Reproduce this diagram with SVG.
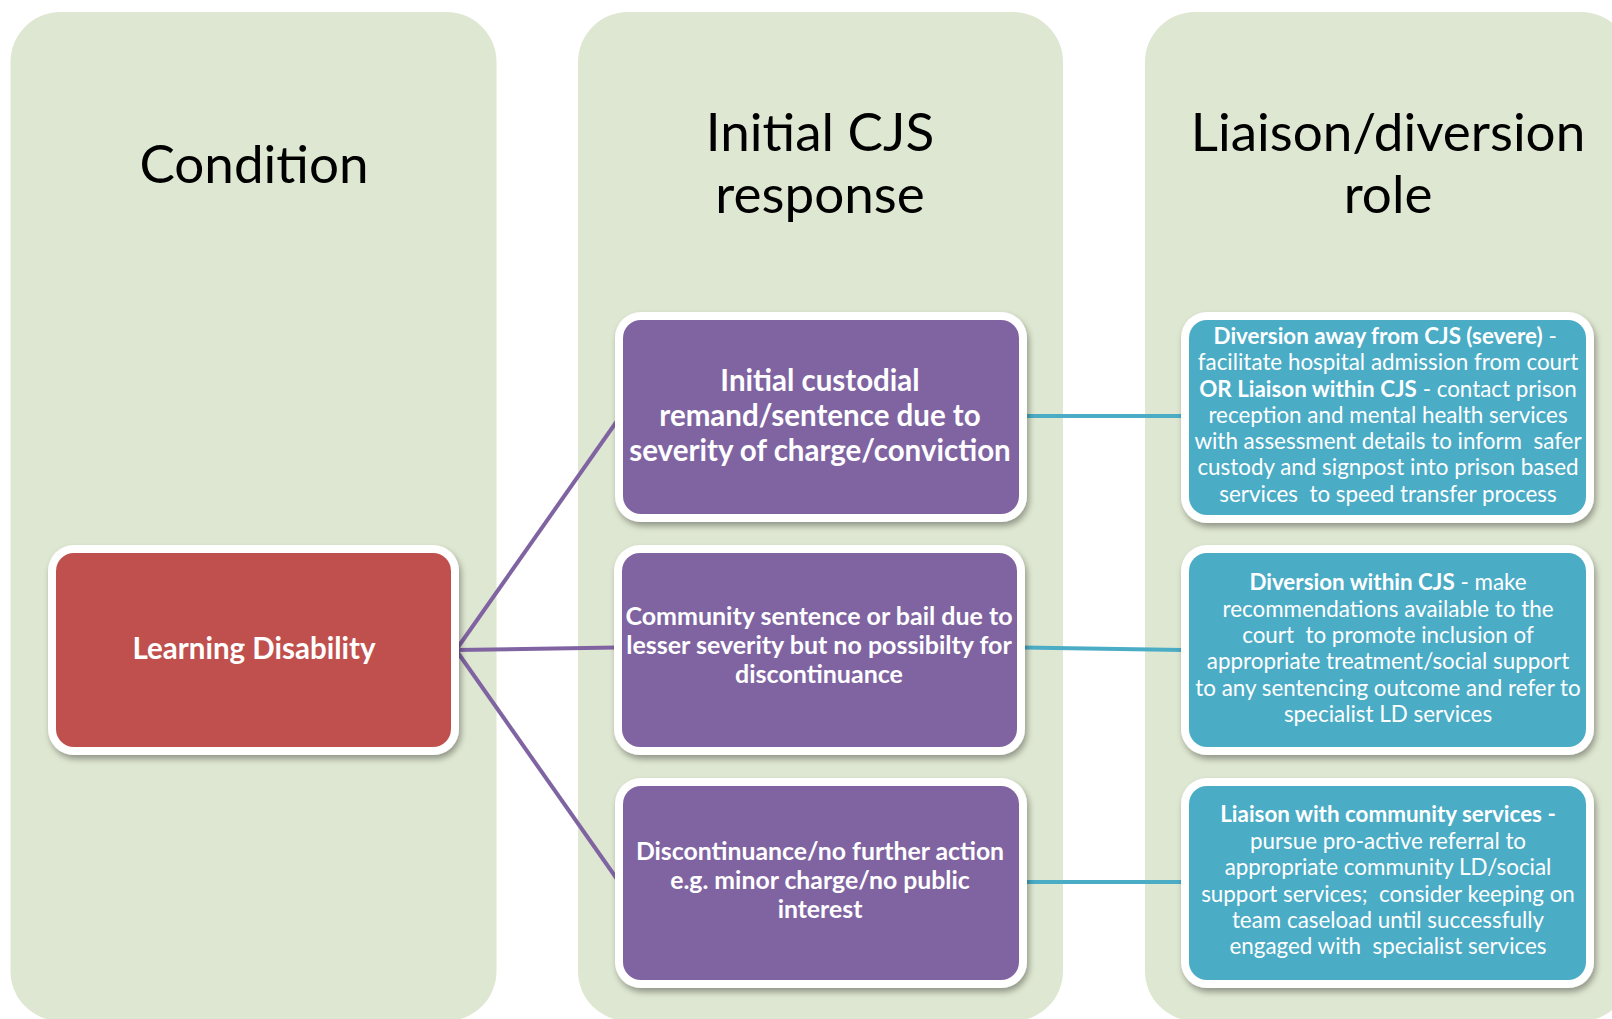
<svg xmlns="http://www.w3.org/2000/svg" width="1612" height="1019" viewBox="0 0 1612 1019">
<defs>
<filter id="sh" x="-10%" y="-10%" width="120%" height="125%">
<feDropShadow dx="2" dy="4" stdDeviation="3" flood-color="#000" flood-opacity="0.35"/>
</filter>
<style>
.col{fill:#DEE7D1}
.frame{fill:#FFFFFF;filter:url(#sh)}
.red{fill:#C0504D}
.pur{fill:#8064A2}
.teal{fill:#4BACC6}
.hdr{font-family:Lato,"Liberation Sans",sans-serif;font-size:53px;fill:#000;text-anchor:middle}
.t{font-family:Lato,"Liberation Sans",sans-serif;fill:#FFFFFF;text-anchor:middle;white-space:pre}
.b{font-weight:bold}
.pl{stroke:#8064A2;stroke-width:4;fill:none}
.tl{stroke:#4BACC6;stroke-width:4;fill:none}
</style>
</defs>
<g id="columns">
<rect class="col" x="10.5" y="12" width="486" height="1009" rx="50"/>
<rect class="col" x="578" y="12" width="485" height="1009" rx="50"/>
<rect class="col" x="1145" y="12" width="486" height="1009" rx="50"/>
<text class="hdr" x="254" y="183">Condition</text>
<text class="hdr" x="820" y="151">Initial CJS</text>
<text class="hdr" x="820" y="213">response</text>
<text class="hdr" x="1388" y="151">Liaison/diversion</text>
<text class="hdr" x="1388" y="213">role</text>
</g>
<g id="connectors">
<line class="pl" x1="456" y1="650" x2="617" y2="421"/>
<line class="pl" x1="456" y1="650" x2="616" y2="647.5"/>
<line class="pl" x1="456" y1="650" x2="617" y2="879"/>
<line class="tl" x1="1025" y1="416" x2="1183" y2="416"/>
<line class="tl" x1="1023" y1="647.5" x2="1183" y2="650"/>
<line class="tl" x1="1025" y1="882" x2="1183" y2="882"/>
</g>
<g id="node-ld">
<rect class="frame" x="48" y="545" width="411" height="210" rx="26"/>
<rect class="red" x="56" y="553" width="395" height="194" rx="18"/>
<text class="t b" x="254" y="659" font-size="29.5">Learning Disability</text>
</g>
<g id="node-custodial">
<rect class="frame" x="615" y="312" width="412" height="210" rx="26"/>
<rect class="pur" x="623" y="320" width="396" height="194" rx="18"/>
<text class="t b" font-size="29.5"><tspan x="820" y="391">Initial custodial</tspan><tspan x="820" y="426">remand/sentence due to</tspan><tspan x="820" y="461">severity of charge/conviction</tspan></text>
</g>
<g id="node-community">
<rect class="frame" x="614" y="545" width="411" height="210" rx="26"/>
<rect class="pur" x="622" y="553" width="395" height="194" rx="18"/>
<text class="t b" font-size="25"><tspan x="819" y="625">Community sentence or bail due to</tspan><tspan x="819" y="654">lesser severity but no possibilty for</tspan><tspan x="819" y="683">discontinuance</tspan></text>
</g>
<g id="node-discontinuance">
<rect class="frame" x="615" y="778" width="412" height="210" rx="26"/>
<rect class="pur" x="623" y="786" width="396" height="194" rx="18"/>
<text class="t b" font-size="24.8"><tspan x="820" y="860">Discontinuance/no further action</tspan><tspan x="820" y="889">e.g. minor charge/no public</tspan><tspan x="820" y="918">interest</tspan></text>
</g>
<g id="node-diversion-away">
<rect class="frame" x="1181" y="312" width="413" height="211" rx="26"/>
<rect class="teal" x="1189" y="320" width="397" height="195" rx="18"/>
<text class="t" font-size="22.4"><tspan x="1388" y="344"><tspan class="b">Diversion away from CJS (severe)</tspan> - </tspan><tspan x="1388" y="370">facilitate hospital admission from court</tspan><tspan x="1388" y="396.5"><tspan class="b">OR Liaison within CJS</tspan> - contact prison</tspan><tspan x="1388" y="422.5">reception and mental health services</tspan><tspan x="1388" y="449">with assessment details to inform  safer</tspan><tspan x="1388" y="475">custody and signpost into prison based</tspan><tspan x="1388" y="501.5">services  to speed transfer process</tspan></text>
</g>
<g id="node-diversion-within">
<rect class="frame" x="1181" y="545" width="413" height="210" rx="26"/>
<rect class="teal" x="1189" y="553" width="397" height="194" rx="18"/>
<text class="t" font-size="22.4"><tspan x="1388" y="590"><tspan class="b">Diversion within CJS</tspan> - make</tspan><tspan x="1388" y="616.5">recommendations available to the</tspan><tspan x="1388" y="642.5">court  to promote inclusion of</tspan><tspan x="1388" y="669">appropriate treatment/social support</tspan><tspan x="1388" y="695.5">to any sentencing outcome and refer to</tspan><tspan x="1388" y="721.5">specialist LD services</tspan></text>
</g>
<g id="node-liaison-community">
<rect class="frame" x="1181" y="778" width="413" height="210" rx="26"/>
<rect class="teal" x="1189" y="786" width="397" height="194" rx="18"/>
<text class="t" font-size="22.4"><tspan x="1388" y="822" class="b">Liaison with community services -</tspan><tspan x="1388" y="849">pursue pro-active referral to</tspan><tspan x="1388" y="875">appropriate community LD/social</tspan><tspan x="1388" y="901.5">support services;  consider keeping on</tspan><tspan x="1388" y="928">team caseload until successfully</tspan><tspan x="1388" y="954">engaged with  specialist services</tspan></text>
</g>
</svg>
